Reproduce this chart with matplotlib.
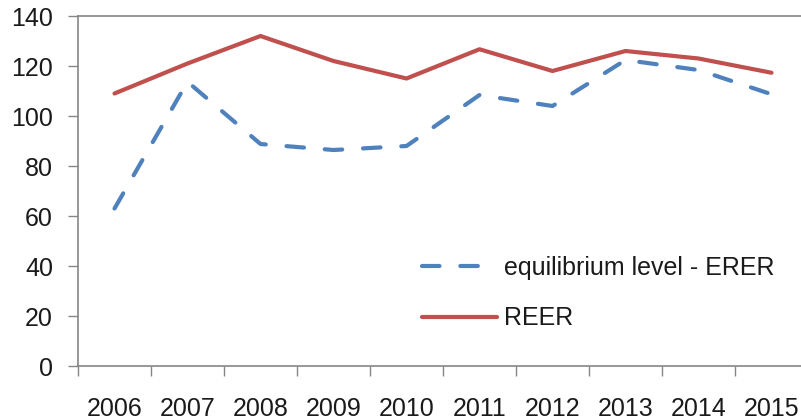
import matplotlib
matplotlib.use("Agg")
import matplotlib.pyplot as plt
import numpy as np

years = ["2006", "2007", "2008", "2009", "2010", "2011", "2012", "2013", "2014", "2015"]
erer = [63, 113.7, 88.8, 86.4, 88, 108.4, 104, 122.4, 118.4, 108.7]
reer = [109, 121, 132, 122, 115, 126.7, 118, 126, 123, 117.3]

plt.rcParams['font.family'] = ['Liberation Sans', 'DejaVu Sans']
axis_col = "#868686"

fig = plt.figure(figsize=(8.01, 4.19), dpi=100)
ax = fig.add_axes([78 / 801, 53 / 419, 730 / 801, 350 / 419])

x = np.arange(len(years)) + 0.5
ax.plot(x, erer, color="#4F81BD", lw=3.0, dashes=(4.2, 5.0), dash_capstyle="round",
        label="equilibrium level - ERER")
ax.plot(x, reer, color="#C0504D", lw=3.0, solid_capstyle="round", label="REER")

ax.set_xlim(0, len(years))
ax.set_ylim(0, 140)
ax.set_yticks(np.arange(0, 141, 20))

# category boundaries carry the tick marks, labels sit in the middle
ax.set_xticks(np.arange(0, len(years) + 1))
ax.set_xticklabels([])
ax.set_xticks(x, minor=True)
ax.set_xticklabels(years, minor=True)
ax.tick_params(axis="x", which="major", length=7, width=1, color=axis_col, direction="out")
ax.tick_params(axis="x", which="minor", length=0, pad=22, labelsize=18, labelcolor="#1a1a1a")
ax.tick_params(axis="y", length=7, width=1, color=axis_col, pad=11, labelsize=18,
               labelcolor="#1a1a1a")

for side in ["left", "bottom", "top"]:
    ax.spines[side].set_color(axis_col)
    ax.spines[side].set_linewidth(1.2)
ax.spines["right"].set_visible(False)

leg = ax.legend(loc="upper left", bbox_to_anchor=(344 / 730, 110 / 350), frameon=False,
                fontsize=18, handlelength=3.0, handletextpad=0.3, labelspacing=1.05,
                borderpad=0, borderaxespad=0)
for t in leg.get_texts():
    t.set_color("#1a1a1a")

fig.savefig("out.png", dpi=100)
